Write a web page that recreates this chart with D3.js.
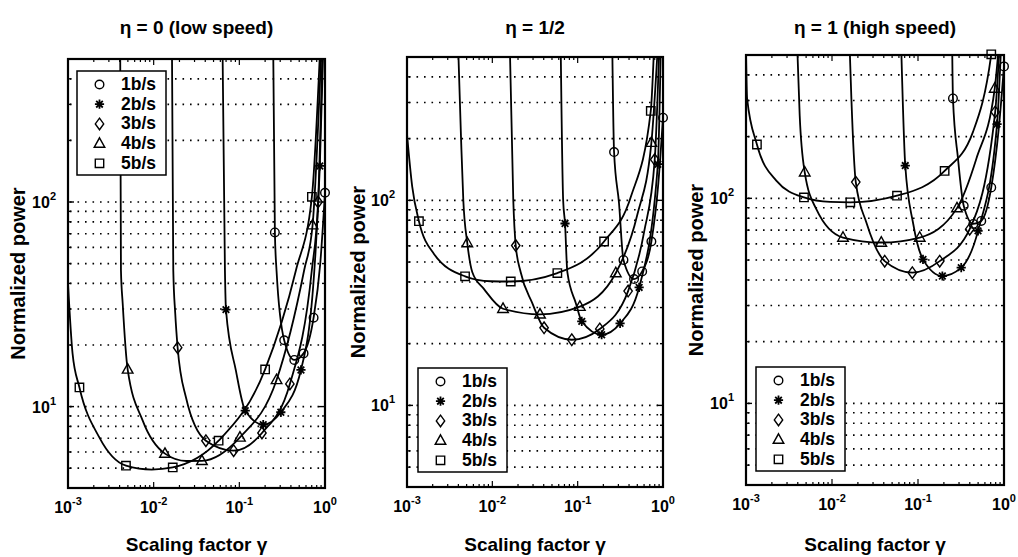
<!DOCTYPE html>
<html>
<head>
<meta charset="utf-8">
<script src="https://cdnjs.cloudflare.com/ajax/libs/d3/7.8.5/d3.min.js"></script>
<style>
  body { margin: 0; background: #fff; }
  text { font-family: "Liberation Sans", Arial, sans-serif; font-weight: bold; fill: #000; }
</style>
</head>
<body>
<div id="chart"></div>
<script>
// labels
var seriesNames = ["1b/s", "2b/s", "3b/s", "4b/s", "5b/s"];
var markerShapes = ["circle", "asterisk", "diamond", "triangle", "square"];
var panelTitles = ["\u03b7 = 0 (low speed)", "\u03b7 = 1/2", "\u03b7 = 1 (high speed)"];
var xLabel = "Scaling factor \u03b3";
var yLabel = "Normalized power";

// axes
var xDomain = [1e-3, 1];
var yDomain = [4, 500];
var xTicks = [1e-3, 1e-2, 1e-1, 1];
var xTickExp = ["-3", "-2", "-1", "0"];
var yTicks = [10, 100];
var yTickExp = ["1", "2"];

// eta = 0 : curve points [gamma, power] per series (1b/s .. 5b/s)
var lowSpeedLines = [
  [[0.249, 520], [0.260, 71], [0.272, 46], [0.334, 21.1], [0.438, 16.9], [0.562, 18.2], [0.736, 27.2], [0.88, 50], [1.0, 111]],
  [[0.0638, 520], [0.0679, 46.4], [0.0698, 29.8], [0.0912, 15], [0.1172, 9.56], [0.190, 8.16], [0.305, 9.38], [0.524, 15.1], [0.75, 46], [0.87, 150], [0.95, 520]],
  [[0.01637, 520], [0.01694, 46.4], [0.01786, 28.5], [0.01905, 19.4], [0.0238, 11.1], [0.0407, 6.81], [0.0858, 6.09], [0.1837, 7.43], [0.389, 12.9], [0.70, 46], [0.83, 100], [0.93, 520]],
  [[0.00407, 520], [0.00415, 46.4], [0.00435, 31.9], [0.00497, 15.2], [0.00745, 8.54], [0.01355, 5.89], [0.024, 5.42], [0.0366, 5.43], [0.1016, 7.07], [0.272, 13.5], [0.571, 46.4], [0.716, 77], [0.9, 520]],
  [[0.001, 40], [0.00113, 18.2], [0.00136, 12.4], [0.00232, 7.07], [0.00475, 5.14], [0.0095, 4.92], [0.0167, 5.04], [0.0573, 6.81], [0.2, 15.2], [0.458, 46.4], [0.703, 106], [0.87, 520]]
];
var lowSpeedMarks = [
  [[0.260, 71], [0.334, 21.1], [0.438, 16.9], [0.562, 18.2], [0.736, 27.2], [1.0, 111]],
  [[0.0698, 29.8], [0.1172, 9.56], [0.190, 8.16], [0.305, 9.38], [0.524, 15.1], [0.87, 150]],
  [[0.01905, 19.4], [0.0407, 6.81], [0.0858, 6.09], [0.1837, 7.43], [0.389, 12.9], [0.83, 100]],
  [[0.00497, 15.2], [0.01355, 5.89], [0.0366, 5.43], [0.1016, 7.07], [0.272, 13.5], [0.716, 77]],
  [[0.00136, 12.4], [0.00475, 5.14], [0.0167, 5.04], [0.0573, 6.81], [0.2, 15.2], [0.703, 106]]
];

// eta = 1/2
var midSpeedLines = [
  [[0.255, 520], [0.267, 172], [0.305, 97], [0.344, 51.2], [0.458, 41.3], [0.57, 45], [0.731, 63], [0.88, 120], [1.0, 253]],
  [[0.0634, 520], [0.0676, 100], [0.0711, 77.1], [0.0757, 44.6], [0.095, 31.6], [0.1117, 25.7], [0.191, 22.1], [0.314, 25.1], [0.525, 37.6], [0.87, 150], [0.94, 520]],
  [[0.0161, 520], [0.0176, 100], [0.0188, 60.2], [0.0215, 44.6], [0.0293, 31.6], [0.0404, 23.9], [0.0853, 20.9], [0.1816, 23.6], [0.39, 36.1], [0.6, 70], [0.80, 158], [0.9, 520]],
  [[0.0040, 520], [0.0043, 200], [0.00457, 100], [0.00509, 61.9], [0.00583, 44.6], [0.0080, 36.9], [0.01334, 29.6], [0.0362, 27.8], [0.106, 30.3], [0.28, 44.2], [0.5, 85], [0.731, 191], [0.86, 520]],
  [[0.001, 210], [0.00115, 117], [0.00138, 79.1], [0.00207, 54.8], [0.00479, 42.6], [0.0095, 40.3], [0.01644, 40.2], [0.0578, 44.2], [0.204, 63], [0.42, 104], [0.719, 273], [0.78, 520]]
];
var midSpeedMarks = [
  [[0.267, 172], [0.344, 51.2], [0.458, 41.3], [0.57, 45], [0.731, 63], [1.0, 253]],
  [[0.0711, 77.1], [0.1117, 25.7], [0.191, 22.1], [0.314, 25.1], [0.525, 37.6], [0.87, 150]],
  [[0.0188, 60.2], [0.0404, 23.9], [0.0853, 20.9], [0.1816, 23.6], [0.39, 36.1], [0.80, 158]],
  [[0.00509, 61.9], [0.01334, 29.6], [0.0362, 27.8], [0.106, 30.3], [0.28, 44.2], [0.731, 191]],
  [[0.00138, 79.1], [0.00479, 42.6], [0.01644, 40.2], [0.0578, 44.2], [0.204, 63], [0.719, 273]]
];

// eta = 1
var highSpeedLines = [
  [[0.25, 520], [0.255, 307], [0.292, 156], [0.340, 92], [0.44, 75], [0.544, 77.6], [0.711, 113], [0.87, 220], [1.0, 440]],
  [[0.0640, 520], [0.0711, 144.5], [0.0875, 76], [0.1143, 50.4], [0.192, 41.8], [0.318, 45.9], [0.499, 69.4], [0.83, 230], [0.92, 520]],
  [[0.0161, 520], [0.0168, 307], [0.0189, 120], [0.0251, 76.2], [0.0410, 49.4], [0.0859, 43.4], [0.1788, 49.4], [0.399, 70.7], [0.79, 264], [0.88, 520]],
  [[0.00396, 520], [0.00421, 254], [0.00482, 134], [0.00657, 88.6], [0.01343, 64.4], [0.0374, 60.9], [0.1047, 64.4], [0.284, 89.6], [0.477, 156], [0.780, 343], [0.86, 520]],
  [[0.001, 520], [0.00103, 307], [0.00134, 183], [0.00225, 122], [0.00472, 101], [0.0095, 96], [0.01633, 95.6], [0.057, 103], [0.204, 136], [0.436, 211], [0.711, 504], [0.75, 600]]
];
var highSpeedMarks = [
  [[0.255, 307], [0.340, 92], [0.44, 75], [0.544, 77.6], [0.711, 113], [1.0, 440]],
  [[0.0711, 144.5], [0.1143, 50.4], [0.192, 41.8], [0.318, 45.9], [0.499, 69.4], [0.83, 230]],
  [[0.0189, 120], [0.041, 49.4], [0.0859, 43.4], [0.1788, 49.4], [0.399, 70.7], [0.79, 264]],
  [[0.00482, 134], [0.01343, 64.4], [0.0374, 60.9], [0.1047, 64.4], [0.284, 89.6], [0.780, 343]],
  [[0.00134, 183], [0.00472, 101], [0.01633, 95.6], [0.057, 103], [0.204, 136], [0.711, 504]]
];

var panelLines = [lowSpeedLines, midSpeedLines, highSpeedLines];
var panelMarks = [lowSpeedMarks, midSpeedMarks, highSpeedMarks];

// panel boxes in page pixels
var layouts = [
  { left: 68, right: 325, top: 59, bottom: 488, legendX: 77, legendY: 71, yLabelX: 25 },
  { left: 407, right: 663, top: 57, bottom: 487, legendX: 418, legendY: 368, yLabelX: 365 },
  { left: 746, right: 1004, top: 55, bottom: 485, legendX: 756, legendY: 367, yLabelX: 703 }
];

var svg = d3.select("#chart")
  .append("svg")
  .attr("width", 1018)
  .attr("height", 557);

// marker shapes as path strings
function markerPath(shape) {
  switch (shape) {
    case "circle":
      return "M-4.3,0A4.3,4.3 0 1,0 4.3,0A4.3,4.3 0 1,0 -4.3,0Z";
    case "square":
      return "M-4.2,-4.2H4.2V4.2H-4.2Z";
    case "diamond":
      return "M0,-5.8L4.2,0L0,5.8L-4.2,0Z";
    case "triangle":
      return "M0,-5.8L5.3,3.7L-5.3,3.7Z";
    case "asterisk":
      return "M-4.6,0H4.6M0,-4.6V4.6M-3.3,-3.3L3.3,3.3M-3.3,3.3L3.3,-3.3";
  }
}

// minor values of a log range
function logSteps(domain) {
  var out = [];
  for (var d = Math.pow(10, Math.floor(Math.log10(domain[0]))); d < domain[1]; d *= 10) {
    for (var k = 1; k < 10; k++) {
      var v = k * d;
      if (v > domain[0] * 1.0001 && v < domain[1] * 0.9999) out.push(v);
    }
  }
  return out;
}

function drawPanel(p) {
  var lay = layouts[p];
  var x = d3.scaleLog().domain(xDomain).range([lay.left, lay.right]);
  var y = d3.scaleLog().domain(yDomain).range([lay.bottom, lay.top]);
  var g = svg.append("g");

  // clip for the curves
  g.append("clipPath")
    .attr("id", "clip" + p)
    .append("rect")
    .attr("x", lay.left)
    .attr("y", lay.top)
    .attr("width", lay.right - lay.left)
    .attr("height", lay.bottom - lay.top);

  // dotted horizontal grid
  var yGrid = logSteps(yDomain);
  g.selectAll(".grid")
    .data(yGrid)
    .enter()
    .append("line")
    .attr("x1", lay.left + 2)
    .attr("x2", lay.right - 2)
    .attr("y1", d => y(d))
    .attr("y2", d => y(d))
    .attr("stroke", "#000")
    .attr("stroke-width", 1.6)
    .attr("stroke-dasharray", "1.6,5.9");

  // ticks on all four sides, pointing in
  var xMinor = logSteps(xDomain);
  xMinor.forEach(function(v) {
    var major = xTicks.indexOf(v) >= 0;
    var len = major ? 6 : 3;
    g.append("line").attr("x1", x(v)).attr("x2", x(v))
      .attr("y1", lay.bottom).attr("y2", lay.bottom - len)
      .attr("stroke", "#000").attr("stroke-width", 1.2);
    g.append("line").attr("x1", x(v)).attr("x2", x(v))
      .attr("y1", lay.top).attr("y2", lay.top + len)
      .attr("stroke", "#000").attr("stroke-width", 1.2);
  });
  yGrid.forEach(function(v) {
    var major = yTicks.indexOf(v) >= 0;
    var len = major ? 6 : 3;
    g.append("line").attr("x1", lay.left).attr("x2", lay.left + len)
      .attr("y1", y(v)).attr("y2", y(v))
      .attr("stroke", "#000").attr("stroke-width", 1.4);
    g.append("line").attr("x1", lay.right).attr("x2", lay.right - len)
      .attr("y1", y(v)).attr("y2", y(v))
      .attr("stroke", "#000").attr("stroke-width", 1.4);
  });

  // curves
  var line = d3.line()
    .x(d => x(d[0]))
    .y(d => y(d[1]))
    .curve(d3.curveMonotoneX);

  g.append("g")
    .attr("clip-path", "url(#clip" + p + ")")
    .selectAll("path")
    .data(panelLines[p])
    .enter()
    .append("path")
    .attr("d", line)
    .attr("fill", "none")
    .attr("stroke", "#000")
    .attr("stroke-width", 1.8);

  // markers
  panelMarks[p].forEach(function(pts, s) {
    g.selectAll(".m" + s)
      .data(pts)
      .enter()
      .append("path")
      .attr("transform", d => `translate(${x(d[0])},${y(d[1])})`)
      .attr("d", markerPath(markerShapes[s]))
      .attr("fill", "none")
      .attr("stroke", "#000")
      .attr("stroke-width", markerShapes[s] == "asterisk" ? 1.8 : 1.4);
  });

  // frame
  g.append("rect")
    .attr("x", lay.left)
    .attr("y", lay.top)
    .attr("width", lay.right - lay.left)
    .attr("height", lay.bottom - lay.top)
    .attr("fill", "none")
    .attr("stroke", "#000")
    .attr("stroke-width", 2.2);

  // x tick labels
  xTicks.forEach(function(v, i) {
    var t = g.append("text")
      .attr("x", x(v))
      .attr("y", lay.bottom + 25)
      .attr("text-anchor", "middle")
      .style("font-size", "16px");
    t.append("tspan").text("10");
    t.append("tspan").attr("dy", -8).style("font-size", "11px").text(xTickExp[i]);
  });

  // y tick labels
  yTicks.forEach(function(v, i) {
    var t = g.append("text")
      .attr("x", lay.left - 12)
      .attr("y", y(v) + 6)
      .attr("text-anchor", "end")
      .style("font-size", "16px");
    t.append("tspan").text("10");
    t.append("tspan").attr("dy", -8).style("font-size", "11px").text(yTickExp[i]);
  });

  // title and axis labels
  var cx = (lay.left + lay.right) / 2;
  g.append("text")
    .attr("x", cx)
    .attr("y", 34)
    .attr("text-anchor", "middle")
    .style("font-size", "19px")
    .text(panelTitles[p]);
  g.append("text")
    .attr("x", cx)
    .attr("y", 551)
    .attr("text-anchor", "middle")
    .style("font-size", "19px")
    .text(xLabel);
  g.append("text")
    .attr("transform", `translate(${lay.yLabelX}, ${(lay.top + lay.bottom) / 2}) rotate(-90)`)
    .attr("text-anchor", "middle")
    .style("font-size", "20px")
    .text(yLabel);

  // legend
  var lg = g.append("g")
    .attr("transform", `translate(${lay.legendX}, ${lay.legendY})`);
  lg.append("rect")
    .attr("width", 89)
    .attr("height", 104)
    .attr("fill", "#fff")
    .attr("stroke", "#000")
    .attr("stroke-width", 1.5);
  seriesNames.forEach(function(name, s) {
    var ry = 13.5 + s * 19.7;
    lg.append("path")
      .attr("transform", `translate(22.5, ${ry})`)
      .attr("d", markerPath(markerShapes[s]))
      .attr("fill", "none")
      .attr("stroke", "#000")
      .attr("stroke-width", markerShapes[s] == "asterisk" ? 1.8 : 1.4);
    lg.append("text")
      .attr("x", 44)
      .attr("y", ry + 5.5)
      .style("font-size", "17.5px")
      .text(name);
  });
}

[0, 1, 2].forEach(drawPanel);
</script>
</body>
</html>
